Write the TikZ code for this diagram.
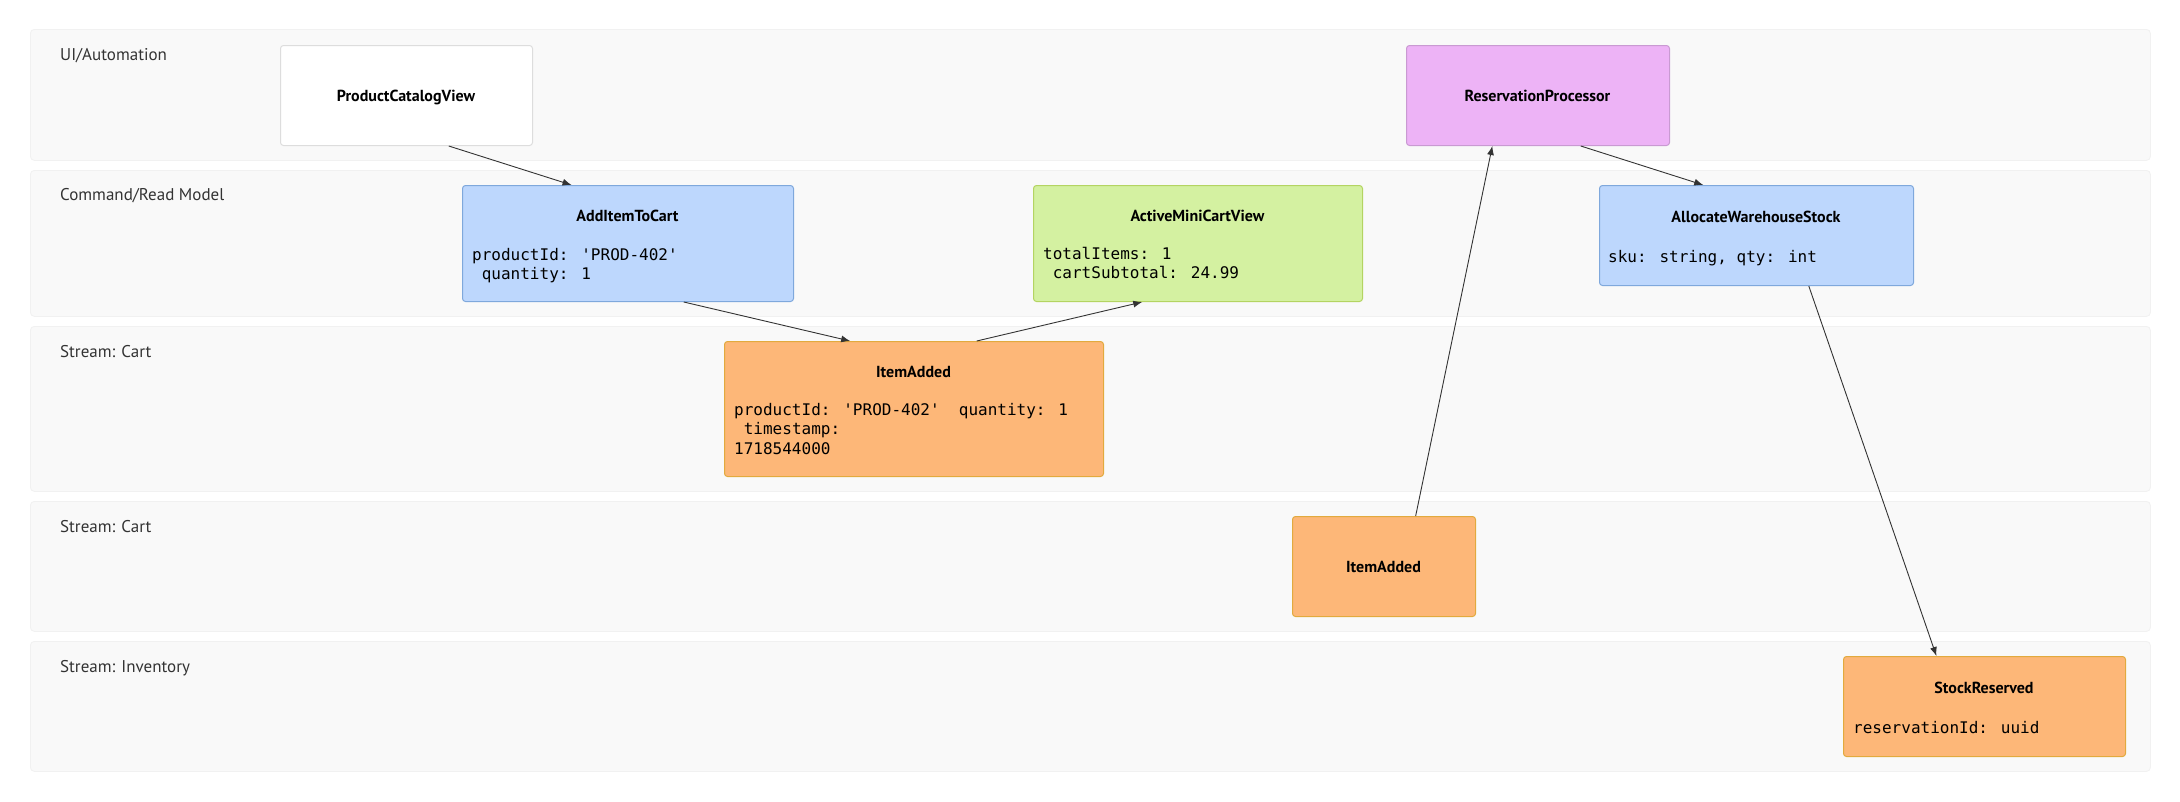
\documentclass[tikz,border=0pt]{standalone}
\usepackage{fontspec}
\setmainfont{PT Sans}
\newfontfamily\monofont{DejaVu Sans Mono}
\usetikzlibrary{arrows.meta,calc}
\definecolor{lanefill}{HTML}{F9F9F9}
\definecolor{laneline}{HTML}{F1F1F1}
\definecolor{labelgray}{HTML}{333333}
\definecolor{viewline}{HTML}{DDDDDD}
\definecolor{procfill}{HTML}{EDB3F6}
\definecolor{procline}{HTML}{C99AD2}
\definecolor{cmdfill}{HTML}{BDD7FD}
\definecolor{cmdline}{HTML}{7FA8DC}
\definecolor{readfill}{HTML}{D4F1A1}
\definecolor{readline}{HTML}{B4D462}
\definecolor{evtfill}{HTML}{FDB778}
\definecolor{evtline}{HTML}{E2AA3E}
\definecolor{arrowgray}{HTML}{333333}
\begin{document}
\begin{tikzpicture}[x=1pt,y=-1pt,
  lane/.style={draw=laneline, fill=lanefill, rounded corners=4pt, line width=0.8pt, inner sep=0pt, anchor=north west},
  lanelabel/.style={anchor=base west, font=\fontsize{17}{20}\selectfont, text=labelgray, inner sep=0pt},
  box/.style={rounded corners=3pt, line width=1pt, inner sep=0pt, anchor=north west},
  viewbox/.style={box, draw=viewline, fill=white},
  procbox/.style={box, draw=procline, fill=procfill},
  cmdbox/.style={box, draw=cmdline, fill=cmdfill},
  readbox/.style={box, draw=readline, fill=readfill},
  evtbox/.style={box, draw=evtline, fill=evtfill},
  title/.style={anchor=base, font=\bfseries\fontsize{16}{19}\selectfont, text=black, inner sep=0pt},
  fields/.style={anchor=north west, align=left, font=\monofont\fontsize{16}{19.5}\selectfont, text=black, inner sep=0pt},
  flow/.style={draw=arrowgray, line width=0.9pt, -{Latex[length=9pt,width=7pt]}}
]
\fill[white] (0,0) rectangle (2180,801);
\useasboundingbox (0,0) rectangle (2180,801);

% lanes
\node[lane, minimum width=2120pt, minimum height=131pt] (lane1) at (30,29) {};
\node[lane, minimum width=2120pt, minimum height=146pt] (lane2) at (30,170) {};
\node[lane, minimum width=2120pt, minimum height=165pt] (lane3) at (30,326) {};
\node[lane, minimum width=2120pt, minimum height=130pt] (lane4) at (30,501) {};
\node[lane, minimum width=2120pt, minimum height=130pt] (lane5) at (30,641) {};

\node[lanelabel] (lab1) at (60,60) {UI/Automation};
\node[lanelabel] (lab2) at (60,200) {Command/Read Model};
\node[lanelabel] (lab3) at (60,357) {Stream: Cart};
\node[lanelabel] (lab4) at (60,532) {Stream: Cart};
\node[lanelabel] (lab5) at (60,672) {Stream: Inventory};

% boxes
\node[viewbox, minimum width=252pt, minimum height=100pt] (pcv) at (280,45) {};
\node[title] (pcvT) at (406,101) {ProductCatalogView};

\node[procbox, minimum width=263pt, minimum height=100pt] (rp) at (1406,45) {};
\node[title] (rpT) at (1537.5,101) {ReservationProcessor};

\node[cmdbox, minimum width=331pt, minimum height=116pt] (add) at (462,185) {};
\node[title] (addT) at (627.5,221) {AddItemToCart};
\node[fields] (addF) at (472,248) {productId: 'PROD-402'\\\phantom{x}quantity: 1};

\node[readbox, minimum width=329pt, minimum height=116pt] (amc) at (1033,185) {};
\node[title] (amcT) at (1197.5,221) {ActiveMiniCartView};
\node[fields] (amcF) at (1043,247) {totalItems: 1\\\phantom{x}cartSubtotal: 24.99};

\node[cmdbox, minimum width=314pt, minimum height=100pt] (aws) at (1599,185) {};
\node[title] (awsT) at (1756,222) {AllocateWarehouseStock};
\node[fields] (awsF) at (1608,250) {sku: string, qty: int};

\node[evtbox, minimum width=379pt, minimum height=135pt] (ia1) at (724,341) {};
\node[title] (ia1T) at (913.5,377) {ItemAdded};
\node[fields] (ia1F) at (734,403) {productId: 'PROD-402'\phantom{xx}quantity: 1\\\phantom{x}timestamp:\\1718544000};

\node[evtbox, minimum width=183pt, minimum height=100pt] (ia2) at (1292,516) {};
\node[title] (ia2T) at (1383.5,572) {ItemAdded};

\node[evtbox, minimum width=282pt, minimum height=100pt] (sr) at (1843,656) {};
\node[title] (srT) at (1984,693) {StockReserved};
\node[fields] (srF) at (1853,721) {reservationId: uuid};

% connectors
\draw[flow] ($(pcv.south west)!0.667!(pcv.south east)$) -- ($(add.north west)!0.33!(add.north east)$);
\draw[flow] ($(add.south west)!0.668!(add.south east)$) -- ($(ia1.north west)!0.332!(ia1.north east)$);
\draw[flow] ($(ia1.north west)!0.665!(ia1.north east)$) -- ($(amc.south west)!0.331!(amc.south east)$);
\draw[flow] ($(ia2.north west)!0.672!(ia2.north east)$) -- ($(rp.south west)!0.327!(rp.south east)$);
\draw[flow] ($(rp.south west)!0.662!(rp.south east)$) -- ($(aws.north west)!0.331!(aws.north east)$);
\draw[flow] ($(aws.south west)!0.666!(aws.south east)$) -- ($(sr.north west)!0.33!(sr.north east)$);
\end{tikzpicture}
\end{document}
